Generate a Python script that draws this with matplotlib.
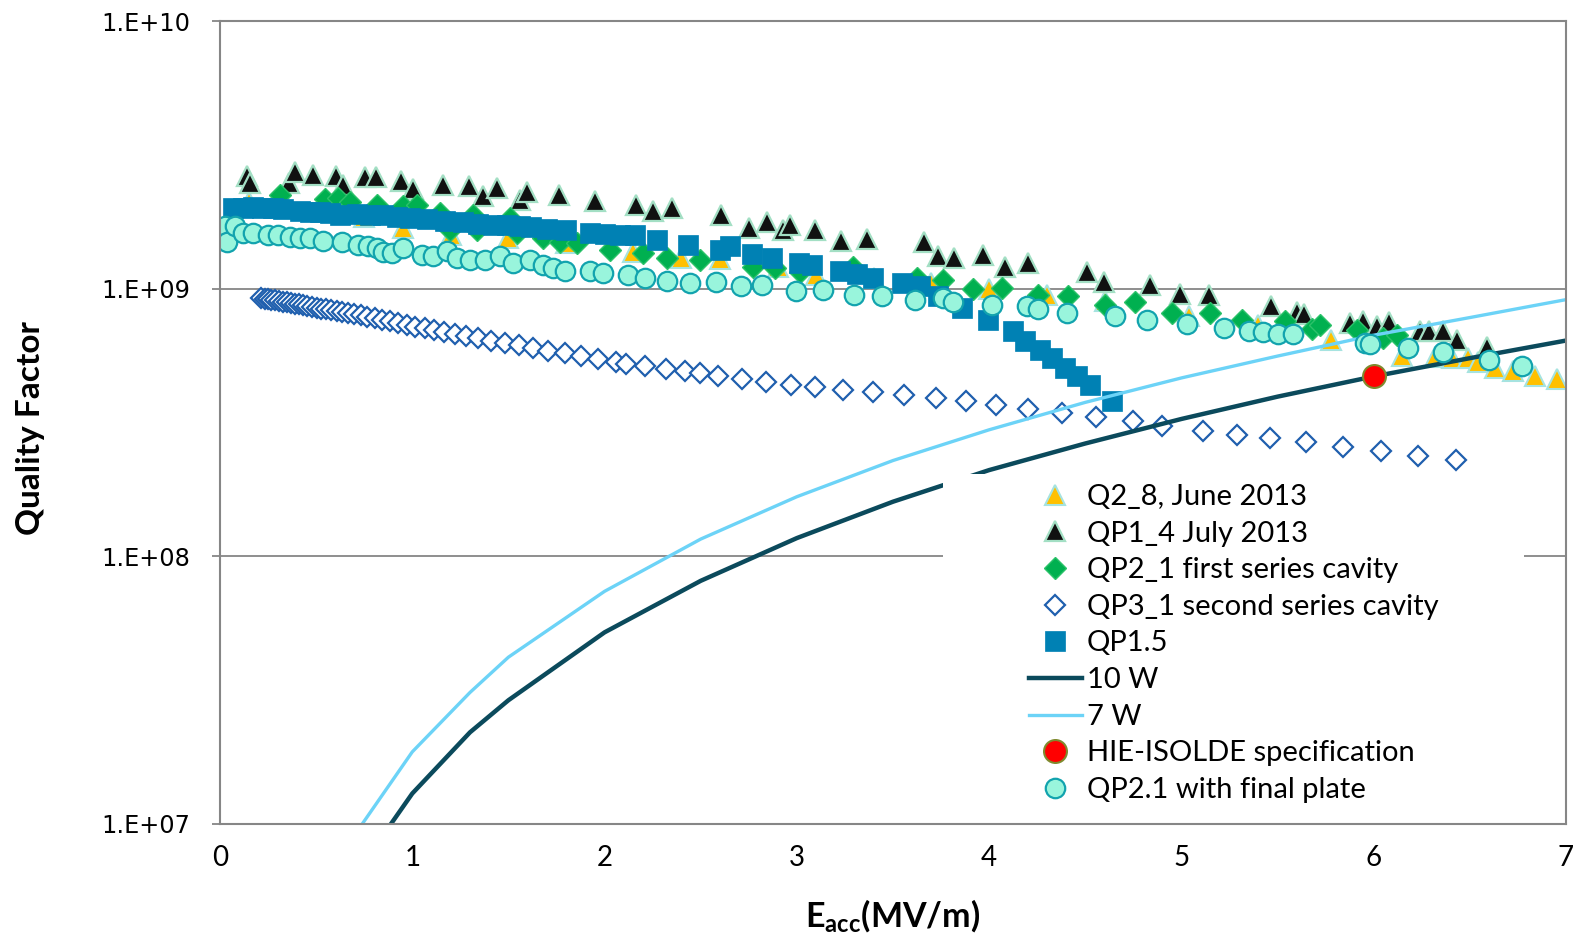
import matplotlib
matplotlib.use("Agg")
import matplotlib.pyplot as plt
from matplotlib.patches import Rectangle

# ---------------- data ----------------
q2_8_x = [0.15, 0.35, 0.55, 0.75, 0.95, 1.2, 1.5, 1.8, 2.15, 2.4, 2.6, 2.9, 3.1, 3.4, 3.7,
          4.0, 4.3, 4.6, 5.04, 5.4, 5.78, 6.145, 6.318, 6.405, 6.49, 6.54, 6.63, 6.726, 6.84, 6.955]
q2_8_q = [2.1e9, 2.0e9, 1.95e9, 1.85e9, 1.68e9, 1.58e9, 1.55e9, 1.48e9, 1.37e9, 1.30e9, 1.29e9,
          1.20e9, 1.12e9, 1.10e9, 1.05e9, 1.0e9, 9.5e8, 9.0e8, 7.9e8, 7.3e8, 6.44e8, 5.58e8,
          5.55e8, 5.5e8, 5.5e8, 5.3e8, 5.05e8, 4.91e8, 4.73e8, 4.61e8]

qp1_4_x = [0.142, 0.156, 0.359, 0.390, 0.482, 0.603, 0.638, 0.756, 0.811, 0.940, 1.002, 1.161,
           1.297, 1.369, 1.442, 1.560, 1.595, 1.765, 1.950, 2.163, 2.250, 2.349, 2.604, 2.753,
           2.843, 2.930, 2.964, 3.094, 3.228, 3.363, 3.661, 3.735, 3.817, 3.966, 4.082, 4.203,
           4.510, 4.599, 4.834, 4.992, 5.145, 5.464, 5.599, 5.637, 5.877, 5.946, 6.015, 6.081,
           6.240, 6.289, 6.362, 6.431, 6.587]
qp1_4_q = [2.64e9, 2.48e9, 2.49e9, 2.72e9, 2.67e9, 2.64e9, 2.43e9, 2.61e9, 2.61e9, 2.52e9, 2.36e9,
           2.44e9, 2.41e9, 2.21e9, 2.38e9, 2.15e9, 2.29e9, 2.23e9, 2.12e9, 2.06e9, 1.95e9, 2.00e9,
           1.89e9, 1.69e9, 1.77e9, 1.65e9, 1.73e9, 1.65e9, 1.51e9, 1.53e9, 1.50e9, 1.33e9, 1.30e9,
           1.34e9, 1.21e9, 1.25e9, 1.15e9, 1.06e9, 1.03e9, 9.58e8, 9.5e8, 8.63e8, 8.15e8, 8.07e8,
           7.45e8, 7.55e8, 7.28e8, 7.48e8, 6.93e8, 6.96e8, 6.96e8, 6.41e8, 6.05e8]

qp2_1_x = [0.312, 0.546, 0.615, 0.676, 0.815, 0.953, 1.023, 1.144, 1.196, 1.317, 1.335, 1.508,
           1.543, 1.681, 1.768, 1.855, 2.028, 2.201, 2.323, 2.496, 2.773, 2.886, 3.016, 3.293,
           3.623, 3.758, 3.917, 4.065, 4.255, 4.411, 4.602, 4.758, 4.949, 5.148, 5.313, 5.538,
           5.677, 5.720, 5.911, 6.049, 6.119]
qp2_1_q = [2.24e9, 2.16e9, 2.18e9, 2.10e9, 2.06e9, 2.04e9, 2.06e9, 1.92e9, 1.66e9, 1.89e9, 1.66e9,
           1.84e9, 1.61e9, 1.55e9, 1.50e9, 1.48e9, 1.40e9, 1.36e9, 1.30e9, 1.28e9, 1.21e9, 1.19e9,
           1.15e9, 1.21e9, 1.10e9, 1.08e9, 9.97e8, 1.01e9, 9.5e8, 9.36e8, 8.72e8, 8.89e8, 8.11e8,
           8.11e8, 7.66e8, 7.55e8, 7.06e8, 7.34e8, 7.03e8, 6.55e8, 6.73e8]

qp3_1_x = [0.215, 0.232, 0.250, 0.267, 0.284, 0.305, 0.326, 0.347, 0.368, 0.388, 0.409, 0.432,
           0.454, 0.478, 0.503, 0.527, 0.553, 0.579, 0.607, 0.634, 0.666, 0.697, 0.731, 0.766,
           0.804, 0.842, 0.884, 0.926, 0.971, 1.016, 1.064, 1.113, 1.165, 1.220, 1.281, 1.342,
           1.411, 1.480, 1.553, 1.628, 1.706, 1.792, 1.879, 1.966, 2.061, 2.11, 2.21, 2.32, 2.42,
           2.496, 2.591, 2.713, 2.839, 2.968, 3.094, 3.241, 3.394, 3.557, 3.723, 3.878, 4.035,
           4.200, 4.380, 4.554, 4.746, 4.900, 5.11, 5.29, 5.46, 5.65, 5.84, 6.04, 6.23, 6.43]
qp3_1_q = [9.23e8, 9.18e8, 9.14e8, 9.10e8, 9.04e8, 8.99e8, 8.93e8, 8.89e8, 8.83e8, 8.79e8, 8.73e8,
           8.67e8, 8.61e8, 8.55e8, 8.49e8, 8.43e8, 8.37e8, 8.32e8, 8.24e8, 8.18e8, 8.11e8, 8.03e8,
           7.94e8, 7.85e8, 7.74e8, 7.66e8, 7.55e8, 7.43e8, 7.33e8, 7.21e8, 7.10e8, 6.98e8, 6.87e8,
           6.76e8, 6.64e8, 6.52e8, 6.40e8, 6.27e8, 6.14e8, 6.01e8, 5.87e8, 5.73e8, 5.58e8, 5.45e8,
           5.31e8, 5.25e8, 5.14e8, 5.02e8, 4.92e8, 4.84e8, 4.73e8, 4.61e8, 4.48e8, 4.37e8, 4.28e8,
           4.20e8, 4.10e8, 3.99e8, 3.91e8, 3.80e8, 3.67e8, 3.56e8, 3.43e8, 3.31e8, 3.19e8, 3.08e8,
           2.95e8, 2.85e8, 2.76e8, 2.67e8, 2.57e8, 2.47e8, 2.37e8, 2.29e8]

qp1_5_x = [0.069, 0.12, 0.173, 0.22, 0.277, 0.33, 0.416, 0.47, 0.520, 0.57, 0.624, 0.711, 0.78,
           0.849, 0.919, 0.99, 1.075, 1.17, 1.265, 1.34, 1.421, 1.49, 1.560, 1.62, 1.699, 1.80,
           1.924, 2.0, 2.080, 2.158, 2.271, 2.435, 2.600, 2.652, 2.765, 2.869, 3.012, 3.077,
           3.224, 3.311, 3.397, 3.545, 3.640, 3.735, 3.857, 3.995, 4.125, 4.186, 4.264, 4.325,
           4.394, 4.455, 4.524, 4.637]
qp1_5_q = [2.0e9, 2.01e9, 2.02e9, 2.01e9, 2.0e9, 1.98e9, 1.95e9, 1.94e9, 1.93e9, 1.91e9, 1.89e9,
           1.90e9, 1.88e9, 1.89e9, 1.86e9, 1.84e9, 1.82e9, 1.79e9, 1.77e9, 1.75e9, 1.73e9, 1.73e9,
           1.72e9, 1.70e9, 1.67e9, 1.65e9, 1.62e9, 1.60e9, 1.59e9, 1.59e9, 1.52e9, 1.46e9, 1.40e9,
           1.44e9, 1.35e9, 1.30e9, 1.25e9, 1.23e9, 1.16e9, 1.13e9, 1.10e9, 1.05e9, 1.02e9, 9.36e8,
           8.47e8, 7.62e8, 6.94e8, 6.36e8, 5.92e8, 5.51e8, 5.06e8, 4.70e8, 4.38e8, 3.79e8]

power_x = [0.7, 1.0, 1.3, 1.5, 2.0, 2.5, 3.0, 3.5, 4.0, 4.5, 5.0, 5.5, 6.0, 6.5, 7.0]
w10_q = [6.4e6, 1.3e7, 2.2e7, 2.9e7, 5.2e7, 8.1e7, 1.17e8, 1.6e8, 2.1e8, 2.64e8, 3.26e8,
         3.95e8, 4.7e8, 5.5e8, 6.4e8]
w7_q = [9.1e6, 1.86e7, 3.1e7, 4.2e7, 7.4e7, 1.16e8, 1.67e8, 2.28e8, 2.97e8, 3.76e8, 4.64e8,
        5.6e8, 6.7e8, 7.8e8, 9.1e8]

spec_x = [6.0]
spec_q = [4.7e8]

qp2_1p_x = [0.026, 0.035, 0.078, 0.121, 0.173, 0.251, 0.303, 0.364, 0.416, 0.468, 0.537, 0.633,
            0.719, 0.771, 0.815, 0.85, 0.893, 0.953, 1.049, 1.109, 1.179, 1.231, 1.300, 1.378,
            1.456, 1.525, 1.612, 1.681, 1.733, 1.794, 1.924, 1.993, 2.123, 2.210, 2.323, 2.444,
            2.579, 2.708, 2.817, 2.995, 3.134, 3.297, 3.441, 3.614, 3.758, 3.814, 4.013, 4.195,
            4.255, 4.403, 4.654, 4.819, 5.027, 5.221, 5.353, 5.426, 5.504, 5.582, 5.955, 5.981,
            6.180, 6.359, 6.601, 6.769]
qp2_1p_q = [1.71e9, 1.50e9, 1.71e9, 1.62e9, 1.62e9, 1.59e9, 1.59e9, 1.56e9, 1.54e9, 1.55e9, 1.51e9,
            1.49e9, 1.46e9, 1.44e9, 1.42e9, 1.37e9, 1.36e9, 1.42e9, 1.34e9, 1.33e9, 1.38e9, 1.30e9,
            1.28e9, 1.28e9, 1.33e9, 1.25e9, 1.28e9, 1.23e9, 1.19e9, 1.16e9, 1.16e9, 1.14e9, 1.12e9,
            1.10e9, 1.07e9, 1.05e9, 1.06e9, 1.02e9, 1.03e9, 9.78e8, 9.86e8, 9.5e8, 9.36e8, 9.1e8,
            9.23e8, 8.89e8, 8.72e8, 8.63e8, 8.39e8, 8.11e8, 7.88e8, 7.62e8, 7.40e8, 7.10e8, 6.97e8,
            6.9e8, 6.8e8, 6.8e8, 6.27e8, 6.2e8, 6.0e8, 5.78e8, 5.43e8, 5.15e8]

labels = ["Q2_8, June 2013", "QP1_4 July 2013", "QP2_1 first series cavity",
          "QP3_1 second series cavity", "QP1.5", "10 W", "7 W",
          "HIE-ISOLDE specification", "QP2.1 with final plate"]
xticks = [0, 1, 2, 3, 4, 5, 6, 7]
yticks = [1e7, 1e8, 1e9, 1e10]
ytick_labels = ["1.E+07", "1.E+08", "1.E+09", "1.E+10"]

# ---------------- figure ----------------
plt.rcParams['mathtext.fontset'] = 'custom'
plt.rcParams['mathtext.rm'] = 'Lato'
plt.rcParams['mathtext.bf'] = 'Lato:bold'
plt.rcParams['mathtext.it'] = 'Lato:italic'

fig = plt.figure(figsize=(15.81, 9.36), dpi=100)
ax = fig.add_axes([0.13915, 0.11966, 0.85136, 0.8579])

h = []
h.append(ax.plot(q2_8_x, q2_8_q, ls='none', marker='^', ms=14.5, mfc='#FFC000',
                 mec='#A6E3E0', mew=1.5, label=labels[0])[0])
h.append(ax.plot(qp1_4_x, qp1_4_q, ls='none', marker='^', ms=14, mfc='#111111',
                 mec='#A3DFC4', mew=1.6, label=labels[1])[0])
h.append(ax.plot(qp2_1_x, qp2_1_q, ls='none', marker='D', ms=11.5, mfc='#00B050',
                 mec='#2CC26A', mew=1.0, label=labels[2])[0])
h.append(ax.plot(qp3_1_x, qp3_1_q, ls='none', marker='D', ms=10.3, mfc='white',
                 mec='#1F5FAE', mew=1.6, label=labels[3])[0])
h.append(ax.plot(qp1_5_x, qp1_5_q, ls='none', marker='s', ms=14.5, mfc='#0081B4',
                 mec='#0081B4', mew=0.5, label=labels[4])[0])
h.append(ax.plot(power_x, w10_q, color='#0B4A5C', lw=3.2, label=labels[5])[0])
h.append(ax.plot(power_x, w7_q, color='#6CD3F7', lw=2.4, label=labels[6])[0])
h.append(ax.plot(spec_x, spec_q, ls='none', marker='o', ms=16.5, mfc='#FF0000',
                 mec='#7F8A2E', mew=1.5, label=labels[7])[0])
h.append(ax.plot(qp2_1p_x, qp2_1p_q, ls='none', marker='o', ms=14, mfc='#99F5DC',
                 mec='#12A3AE', mew=1.6, label=labels[8])[0])

ax.set_yscale('log')
ax.set_xlim(0, 7)
ax.set_ylim(1e7, 1e10)
ax.set_xticks(xticks)
ax.set_xticklabels([str(v) for v in xticks], fontfamily='Lato', fontsize=20)
ax.set_yticks(yticks)
ax.set_yticklabels(ytick_labels, fontfamily='DejaVu Sans', fontsize=17.3)
ax.yaxis.set_minor_locator(matplotlib.ticker.NullLocator())
ax.tick_params(axis='y', direction='out', length=5.8, width=1.3, color='#868686', pad=15.5)
ax.tick_params(axis='x', length=0, pad=15)
ax.grid(True, axis='y', which='major', color='#868686', lw=1.3)
ax.set_axisbelow(True)
for s in ax.spines.values():
    s.set_color('#868686')
    s.set_linewidth(1.5)

# white legend background (as in the original)
ax.add_patch(Rectangle((0.5371, 0.02), 0.432, 0.4159, transform=ax.transAxes,
                       facecolor='white', edgecolor='none', zorder=4))
leg = ax.legend(handles=h, loc='upper left', bbox_to_anchor=(0.6007, 0.4234),
                frameon=False, borderpad=0, borderaxespad=0, prop={'family': 'Lato', 'size': 21},
                handlelength=1.83, handletextpad=0.17, labelspacing=0.364, numpoints=1)
leg.set_zorder(6)

fig.text(0.019, 0.543, 'Quality Factor', rotation=90, ha='center', va='center',
         fontfamily='Lato', fontweight='bold', fontsize=24)
fig.text(0.5645, 0.0215, r'$\mathbf{E_{acc}(MV/m)}$', ha='center', va='center', fontsize=24.5)

fig.savefig('out.png', dpi=100)
